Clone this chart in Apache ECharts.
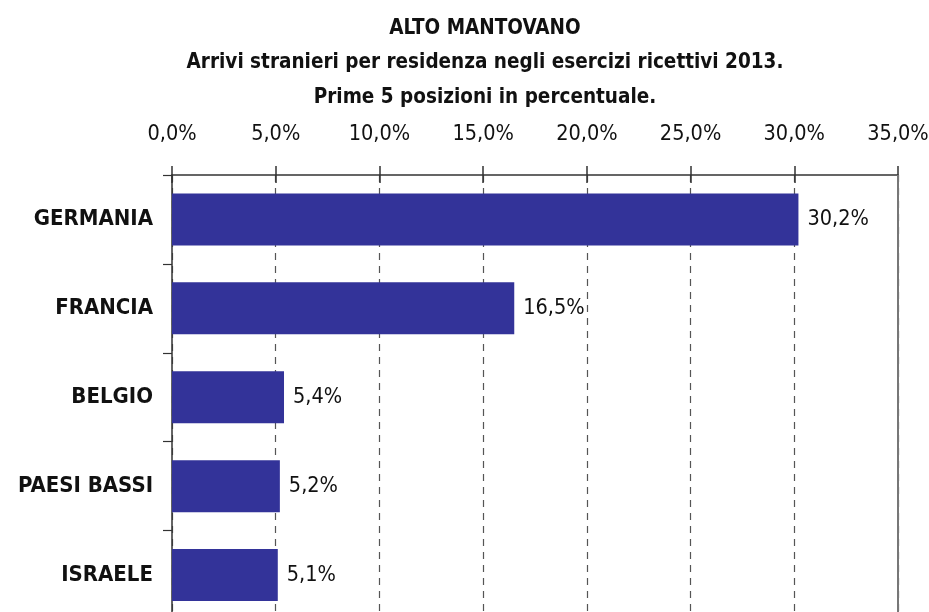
<!DOCTYPE html>
<html>
<head>
    <meta charset="utf-8">
    <title>Alto Mantovano</title>
    <script src="https://cdn.jsdelivr.net/npm/echarts@6/dist/echarts.min.js"></script>
    <style>
        html, body { margin: 0; padding: 0; background: #fff; }
    </style>
</head>
<body>
    <div id="main" style="width: 929px;height:612px;"></div>
    <script type="text/javascript">
        // dati
        var paesi = ['GERMANIA', 'FRANCIA', 'BELGIO', 'PAESI BASSI', 'ISRAELE'];
        var percentuali = [30.2, 16.5, 5.4, 5.2, 5.1];
        var titolo = ['ALTO MANTOVANO',
            'Arrivi stranieri per residenza negli esercizi ricettivi 2013.',
            'Prime 5 posizioni in percentuale.'];

        var FONT = '"Liberation Sans Narrow", "DejaVu Sans Condensed", sans-serif';

        function virgola(v) {
            return v.toFixed(1).replace('.', ',') + '%';
        }

        var myChart = echarts.init(document.getElementById('main'));

        myChart.setOption({
            animation: false,
            title: {
                text: titolo.join('\n'),
                left: 480,
                top: 6,
                textAlign: 'center',
                textStyle: {
                    fontFamily: FONT,
                    fontWeight: 'bold',
                    fontSize: 20.5,
                    lineHeight: 34.5,
                    color: '#111'
                }
            },
            grid: {
                left: 172,
                top: 175,
                width: 726,
                height: 444.5,
                outerBoundsMode: 'none'
            },
            xAxis: [{
                type: 'value',
                position: 'top',
                min: 0,
                max: 35,
                interval: 5,
                axisLine: { show: true, lineStyle: { color: '#333', width: 1.5 } },
                axisTick: { show: true, length: 9, lineStyle: { color: '#333', width: 1.5 } },
                axisLabel: {
                    margin: 30,
                    fontFamily: FONT,
                    fontSize: 21.5,
                    color: '#111',
                    formatter: virgola
                },
                splitLine: {
                    show: true,
                    lineStyle: { color: '#555', width: 1.2, type: [7, 6] }
                }
            }, {
                // tacche interne sotto l'asse
                type: 'value',
                position: 'top',
                min: 0,
                max: 35,
                interval: 5,
                axisLine: { show: false },
                axisTick: { show: true, inside: true, length: 8, lineStyle: { color: '#333', width: 1.5 } },
                axisLabel: { show: false },
                splitLine: { show: false }
            }],
            yAxis: {
                type: 'category',
                data: paesi,
                inverse: true,
                axisLine: { show: true, lineStyle: { color: '#333', width: 1.5 } },
                axisTick: { show: true, length: 9, lineStyle: { color: '#333', width: 1.2 } },
                axisLabel: {
                    margin: 19,
                    fontFamily: FONT,
                    fontWeight: 'bold',
                    fontSize: 22,
                    color: '#111'
                }
            },
            series: [{
                name: 'Arrivi',
                type: 'bar',
                data: percentuali,
                barWidth: 52,
                itemStyle: { color: '#333399' },
                label: {
                    show: true,
                    position: 'right',
                    distance: 9,
                    fontFamily: FONT,
                    fontSize: 21.5,
                    color: '#111',
                    formatter: function (p) { return virgola(p.value); }
                },
                markLine: {
                    silent: true,
                    symbol: 'none',
                    label: { show: false },
                    lineStyle: { color: '#777', width: 2, type: 'solid', opacity: 1 },
                    data: [{ xAxis: 35 }]
                }
            }]
        });
    </script>
</body>
</html>
